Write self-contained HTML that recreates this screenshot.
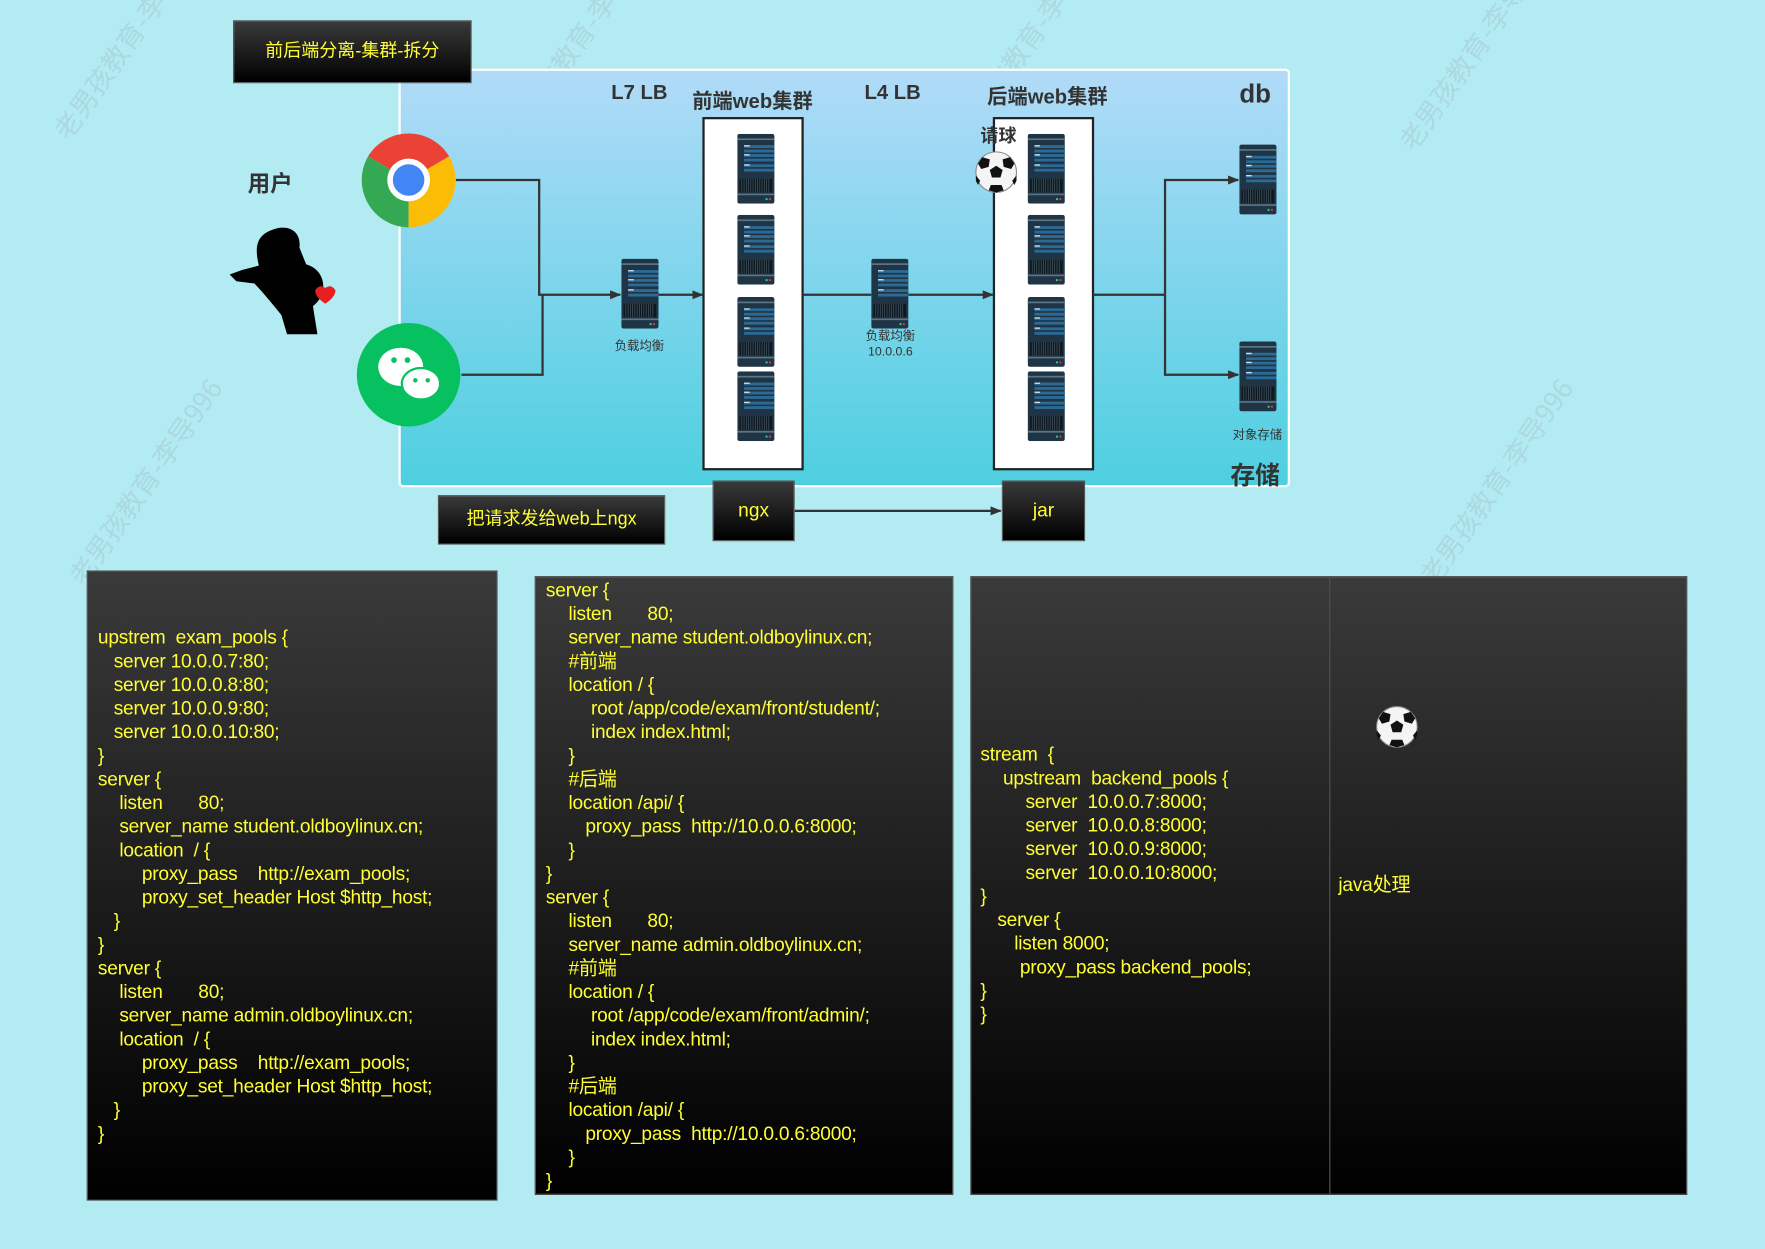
<!DOCTYPE html>
<html><head><meta charset="utf-8">
<style>
html,body{margin:0;padding:0;}
body{width:1765px;height:1249px;overflow:hidden;background:#b3ebf3;}
#w{position:absolute;left:0;top:0;width:1568px;height:1110px;transform:scale(1.12564,1.12523);transform-origin:0 0;font-family:"Liberation Sans","Noto Sans CJK SC",sans-serif;}
.a{position:absolute;}
.dk{position:absolute;background:linear-gradient(#3a3a3a,#000);border:1px solid #555;box-sizing:border-box;}
.y{color:#ffff33;}
.lbl{position:absolute;font-weight:bold;color:#333;white-space:nowrap;}
.code{position:absolute;color:#ffff33;font-size:17px;line-height:21px;white-space:normal;letter-spacing:-0.2px;}
.code div{height:21px;white-space:pre;}
.wm{position:absolute;color:rgba(150,160,170,0.25);font-size:24px;transform:rotate(-55deg);white-space:nowrap;font-family:"Noto Sans CJK SC",sans-serif;}
</style></head><body><div id="w">
<div class="wm" style="left:20px;top:40px;">老男孩教育-李</div>
<div class="wm" style="left:420px;top:40px;">老男孩教育-李</div>
<div class="wm" style="left:820px;top:40px;">老男孩教育-李</div>
<div class="wm" style="left:1210px;top:40px;">老男孩教育-李导</div>
<div class="wm" style="left:20px;top:410px;">老男孩教育-李导996</div>
<div class="wm" style="left:1220px;top:410px;">老男孩教育-李导996</div>

<svg class="a" style="left:0;top:0" width="1568" height="1110">
<defs>
<linearGradient id="pg" x1="0" y1="0" x2="0" y2="1"><stop offset="0" stop-color="#b1dbf8"/><stop offset="1" stop-color="#4dcfe0"/></linearGradient>
<symbol id="srv" viewBox="0 0 33 62">
<rect x="0" y="0" width="33" height="62" rx="2" fill="#1f3545"/>
<rect x="0" y="4" width="33" height="1.5" fill="#5a7585"/>
<rect x="6" y="10" width="27" height="2.5" fill="#2c6a96"/><rect x="6" y="14" width="27" height="2.5" fill="#2c6a96"/>
<rect x="6" y="18" width="27" height="2.5" fill="#2c6a96"/><rect x="6" y="22" width="27" height="2.5" fill="#2c6a96"/>
<rect x="6" y="27" width="27" height="2.5" fill="#2c6a96"/><rect x="6" y="31" width="27" height="2.5" fill="#2c6a96"/>
<rect x="6" y="10" width="5" height="1.2" fill="#cde"/><rect x="6" y="18" width="5" height="1.2" fill="#cde"/><rect x="6" y="27" width="5" height="1.2" fill="#cde"/>
<rect x="2" y="40" width="29" height="12" fill="#0d1820"/>
<g stroke="#4a5a66" stroke-width="0.6"><path d="M4 40v12M6 40v12M8 40v12M10 40v12M12 40v12M14 40v12M16 40v12M18 40v12M20 40v12M22 40v12M24 40v12M26 40v12M28 40v12"/></g>
<rect x="0" y="53" width="33" height="1.5" fill="#5a7585"/>
<circle cx="26" cy="58" r="1" fill="#3c8"/><circle cx="29" cy="58" r="1" fill="#d34"/>
</symbol>
<symbol id="ball" viewBox="-20 -20 40 40">
<circle r="19" fill="#f4f4f4" stroke="#888" stroke-width="1"/>
<polygon points="0,-6 6,-2 4,5 -4,5 -6,-2" fill="#111"/>
<polygon points="-13,-14 -6,-12 -7,-5 -14,-3 -17,-8" fill="#111"/>
<polygon points="13,-14 6,-12 7,-5 14,-3 17,-8" fill="#111"/>
<polygon points="-5,12 5,12 7,17 0,19 -7,17" fill="#111"/>
<polygon points="-19,3 -15,8 -17,12 -19,8" fill="#111"/><polygon points="19,3 15,8 17,12 19,8" fill="#111"/>
</symbol>
<marker id="ar" markerWidth="10" markerHeight="8" refX="9" refY="4" orient="auto" markerUnits="userSpaceOnUse"><path d="M0,0 L10,4 L0,8 z" fill="#333"/></marker>
</defs>
<rect x="355" y="62" width="790" height="370" rx="3" fill="url(#pg)" stroke="#fff" stroke-width="2"/>
<rect x="625" y="105" width="88" height="312" fill="#fff" stroke="#222" stroke-width="2"/>
<rect x="883" y="105" width="88" height="312" fill="#fff" stroke="#222" stroke-width="2"/>
<g fill="none" stroke="#333" stroke-width="2">
<path d="M405 160H479V262H551" marker-end="url(#ar)"/>
<path d="M410 333H482V262"/>
<path d="M585 262H624" marker-end="url(#ar)"/>
<path d="M713 262H774"/>
<path d="M807 262H882" marker-end="url(#ar)"/>
<path d="M971 262H1035"/>
<path d="M1035 262V160H1100" marker-end="url(#ar)"/>
<path d="M1035 262V333H1100" marker-end="url(#ar)"/>
<path d="M706 454H889" marker-end="url(#ar)"/>
</g>
<use href="#srv" x="655" y="119" width="33" height="62"/>
<use href="#srv" x="655" y="191" width="33" height="62"/>
<use href="#srv" x="655" y="264" width="33" height="62"/>
<use href="#srv" x="655" y="330" width="33" height="62"/>
<use href="#srv" x="913" y="119" width="33" height="62"/>
<use href="#srv" x="913" y="191" width="33" height="62"/>
<use href="#srv" x="913" y="264" width="33" height="62"/>
<use href="#srv" x="913" y="330" width="33" height="62"/>
<use href="#srv" x="552" y="230" width="33" height="62"/>
<use href="#srv" x="774" y="230" width="33" height="62"/>
<use href="#srv" x="1101" y="122" width="33" height="75" preserveAspectRatio="none"/>
<use href="#srv" x="1101" y="297" width="33" height="75" preserveAspectRatio="none"/>
<use href="#ball" x="866" y="134" width="38" height="38"/>
<g transform="translate(363,160)">
<path d="M0,0 L36,-21 A42,42 0 0 0 -36,-21 Z" fill="#ea4335"/>
<path d="M0,0 L-36,-21 A42,42 0 0 0 0,42 Z" fill="#34a853"/>
<path d="M0,0 L0,42 A42,42 0 0 0 36,-21 Z" fill="#fbbc05"/>
<circle r="19" fill="#fff"/><circle r="14" fill="#4285f4"/>
</g>
<circle cx="363" cy="333" r="46" fill="#07c160"/>
<ellipse cx="356" cy="326" rx="20" ry="17" fill="#fff"/>
<ellipse cx="374" cy="341" rx="17" ry="14" fill="#fff" stroke="#07c160" stroke-width="2"/>
<circle cx="350" cy="320" r="2.5" fill="#07c160"/><circle cx="362" cy="320" r="2.5" fill="#07c160"/>
<circle cx="369" cy="338" r="2" fill="#07c160"/><circle cx="380" cy="338" r="2" fill="#07c160"/>
<path d="M240 205 C255 198 268 205 266 220 L272 235 C290 240 292 262 278 272 L282 297 L255 297 L250 280 C242 270 232 258 226 252 L210 250 L204 244 L215 240 L230 236 C226 220 228 210 240 205 Z" fill="#000"/>
<path d="M280 258 q4 -6 9 -2 q5 -4 9 2 q0 6 -9 12 q-9 -6 -9 -12z" fill="#e62020"/>
</svg>

<div class="dk" style="left:207px;top:18px;width:212px;height:56px;"></div>
<div class="a y" style="left:207px;top:18px;width:212px;height:56px;line-height:56px;text-align:center;font-size:16px;">前后端分离-集群-拆分</div>

<div class="lbl" style="left:543px;top:72px;font-size:18px;">L7 LB</div>
<div class="lbl" style="left:615px;top:76px;font-size:18px;">前端web集群</div>
<div class="lbl" style="left:768px;top:72px;font-size:18px;">L4 LB</div>
<div class="lbl" style="left:877px;top:72px;font-size:18px;">后端web集群</div>
<div class="lbl" style="left:1101px;top:70px;font-size:23px;">db</div>
<div class="lbl" style="left:1093px;top:405px;font-size:22px;">存储</div>
<div class="lbl" style="left:220px;top:147px;font-size:20px;">用户</div>
<div class="lbl" style="left:871px;top:107px;font-size:16px;">请球</div>
<div class="a" style="left:528px;top:299px;width:80px;text-align:center;font-size:11px;color:#333;">负载均衡</div>
<div class="a" style="left:751px;top:292px;width:80px;text-align:center;font-size:11px;line-height:14px;color:#333;">负载均衡<br>10.0.0.6</div>
<div class="a" style="left:1087px;top:378px;width:60px;text-align:center;font-size:11px;color:#333;">对象存储</div>

<div class="dk" style="left:389px;top:440px;width:202px;height:44px;"></div>
<div class="a y" style="left:389px;top:440px;width:202px;height:44px;line-height:44px;text-align:center;font-size:16px;">把请求发给web上ngx</div>
<div class="dk" style="left:633px;top:427px;width:73px;height:54px;"></div>
<div class="a y" style="left:633px;top:427px;width:73px;height:54px;line-height:54px;text-align:center;font-size:17px;">ngx</div>
<div class="dk" style="left:890px;top:427px;width:74px;height:54px;"></div>
<div class="a y" style="left:890px;top:427px;width:74px;height:54px;line-height:54px;text-align:center;font-size:17px;">jar</div>

<div class="dk" style="left:77px;top:507px;width:365px;height:560px;border-color:#444;"></div>
<div class="dk" style="left:475px;top:512px;width:372px;height:550px;border-color:#444;"></div>
<div class="dk" style="left:862px;top:512px;width:320px;height:550px;border-color:#444;"></div>
<div class="dk" style="left:1181px;top:512px;width:318px;height:550px;border-color:#444;"></div>

<svg class="a" style="left:1222px;top:627px" width="38" height="38"><use href="#ball" x="0" y="0" width="38" height="38"/></svg>

<div class="code" style="left:87px;top:556px;"><div>upstrem  exam_pools {</div><div style="padding-left:14px">server 10.0.0.7:80;</div><div style="padding-left:14px">server 10.0.0.8:80;</div><div style="padding-left:14px">server 10.0.0.9:80;</div><div style="padding-left:14px">server 10.0.0.10:80;</div><div>}</div><div>server {</div><div style="padding-left:19px">listen       80;</div><div style="padding-left:19px">server_name student.oldboylinux.cn;</div><div style="padding-left:19px">location  / {</div><div style="padding-left:39px">proxy_pass    http://exam_pools;</div><div style="padding-left:39px">proxy_set_header Host $http_host;</div><div style="padding-left:14px">}</div><div>}</div><div>server {</div><div style="padding-left:19px">listen       80;</div><div style="padding-left:19px">server_name admin.oldboylinux.cn;</div><div style="padding-left:19px">location  / {</div><div style="padding-left:39px">proxy_pass    http://exam_pools;</div><div style="padding-left:39px">proxy_set_header Host $http_host;</div><div style="padding-left:14px">}</div><div>}</div></div>

<div class="code" style="left:485px;top:514px;"><div>server {</div><div style="padding-left:20px">listen       80;</div><div style="padding-left:20px">server_name student.oldboylinux.cn;</div><div style="padding-left:20px">#前端</div><div style="padding-left:20px">location / {</div><div style="padding-left:40px">root /app/code/exam/front/student/;</div><div style="padding-left:40px">index index.html;</div><div style="padding-left:20px">}</div><div style="padding-left:20px">#后端</div><div style="padding-left:20px">location /api/ {</div><div style="padding-left:35px">proxy_pass  http://10.0.0.6:8000;</div><div style="padding-left:20px">}</div><div>}</div><div>server {</div><div style="padding-left:20px">listen       80;</div><div style="padding-left:20px">server_name admin.oldboylinux.cn;</div><div style="padding-left:20px">#前端</div><div style="padding-left:20px">location / {</div><div style="padding-left:40px">root /app/code/exam/front/admin/;</div><div style="padding-left:40px">index index.html;</div><div style="padding-left:20px">}</div><div style="padding-left:20px">#后端</div><div style="padding-left:20px">location /api/ {</div><div style="padding-left:35px">proxy_pass  http://10.0.0.6:8000;</div><div style="padding-left:20px">}</div><div>}</div></div>

<div class="code" style="left:871px;top:660px;"><div>stream  {</div><div style="padding-left:20px">upstream  backend_pools {</div><div style="padding-left:40px">server  10.0.0.7:8000;</div><div style="padding-left:40px">server  10.0.0.8:8000;</div><div style="padding-left:40px">server  10.0.0.9:8000;</div><div style="padding-left:40px">server  10.0.0.10:8000;</div><div>}</div><div style="padding-left:15px">server {</div><div style="padding-left:30px">listen 8000;</div><div style="padding-left:35px">proxy_pass backend_pools;</div><div>}</div><div>}</div></div>
<div class="code" style="left:1189px;top:776px;"><div>java处理</div></div>
</div></body></html>
